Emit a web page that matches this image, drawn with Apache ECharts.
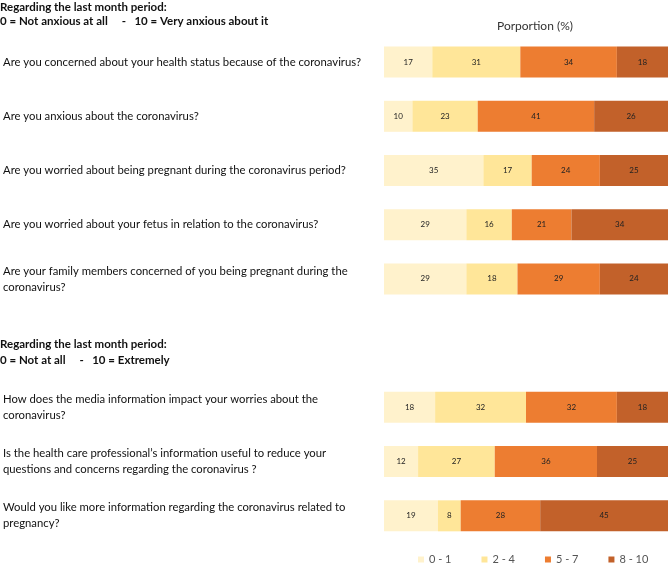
<!DOCTYPE html>
<html><head><meta charset="utf-8">
<script src="https://cdn.jsdelivr.net/npm/echarts@6/dist/echarts.min.js"></script>
<style>html,body{margin:0;padding:0;background:#fff}#c{width:668px;height:564px}</style>
</head><body><div id="c"></div>
<script>
const FONT = 'Lato, "Liberation Sans", sans-serif';
const seriesNames = ['0 - 1', '2 - 4', '5 - 7', '8 - 10'];
const colors = ['#FFF2CC', '#FFE699', '#ED7D31', '#C2612A'];

const questionsA = [
  'Are you concerned about your health status because of the coronavirus?',
  'Are you anxious about the coronavirus?',
  'Are you worried about being pregnant during the coronavirus period?',
  'Are you worried about your fetus in relation to the coronavirus?',
  'Are your family members concerned of you being pregnant during the\ncoronavirus?'
];
const v01A = [17, 10, 35, 29, 29];
const v24A = [31, 23, 17, 16, 18];
const v57A = [34, 41, 24, 21, 29];
const v810A = [18, 26, 25, 34, 24];

const questionsB = [
  'How does the media information impact your worries about the\ncoronavirus?',
  'Is the health care professional\u2019s information useful to reduce your\nquestions and concerns regarding the coronavirus ?',
  'Would you like more information regarding the coronavirus related to\npregnancy?'
];
const v01B = [18, 12, 19];
const v24B = [32, 27, 8];
const v57B = [32, 36, 28];
const v810B = [18, 25, 45];

const header1 = ['Regarding the last month period:', '0 = Not anxious at all     -   10 = Very anxious about it'];
const header2 = ['Regarding the last month period:', '0 = Not at all     -   10 = Extremely'];
const axisTitle = 'Porportion (%)';

const dataA = [v01A, v24A, v57A, v810A];
const dataB = [v01B, v24B, v57B, v810B];

const GL = 377;
function mkSeries(data, idx) {
  return data.map((arr, i) => ({
    name: seriesNames[i], type: 'bar', stack: 's' + idx,
    xAxisIndex: idx, yAxisIndex: idx, barWidth: 31,
    itemStyle: { color: colors[i] },
    label: { show: true, position: 'inside', fontSize: 8, color: '#222', fontFamily: FONT },
    data: arr
  }));
}
function yAx(cats, idx) {
  return {
    type: 'category', gridIndex: idx, inverse: true, data: cats,
    axisLine: { show: false }, axisTick: { show: false },
    axisLabel: { align: 'left', margin: GL + 4, fontSize: 11.3, lineHeight: 16, color: '#111', fontFamily: FONT }
  };
}
function xAx(idx) {
  return { type: 'value', gridIndex: idx, min: 0, max: 100, show: false };
}

const chart = echarts.init(document.getElementById('c'));
chart.setOption({
  animation: false,
  textStyle: { fontFamily: FONT },
  grid: [
    { left: GL, right: 0, top: 35, height: 271 },
    { left: GL, right: 0, top: 380, height: 163 }
  ],
  xAxis: [xAx(0), xAx(1)],
  yAxis: [yAx(questionsA, 0), yAx(questionsB, 1)],
  legend: {
    data: seriesNames, bottom: -6, left: 413, itemGap: 30, itemWidth: 6, itemHeight: 6,
    icon: 'rect', textStyle: { fontSize: 11, color: '#555', fontFamily: FONT }
  },
  graphic: [
    { type: 'text', left: 0, top: 0, style: { text: header1.join('\n'), font: 'bold 11.5px ' + FONT, lineHeight: 14, fill: '#111' } },
    { type: 'text', left: 0, top: 336, style: { text: header2.join('\n'), font: 'bold 11.5px ' + FONT, lineHeight: 16, fill: '#111' } },
    { type: 'text', left: 497, top: 20, style: { text: axisTitle, font: '12px ' + FONT, fill: '#333' } }
  ],
  series: mkSeries(dataA, 0).concat(mkSeries(dataB, 1))
});
</script></body></html>
